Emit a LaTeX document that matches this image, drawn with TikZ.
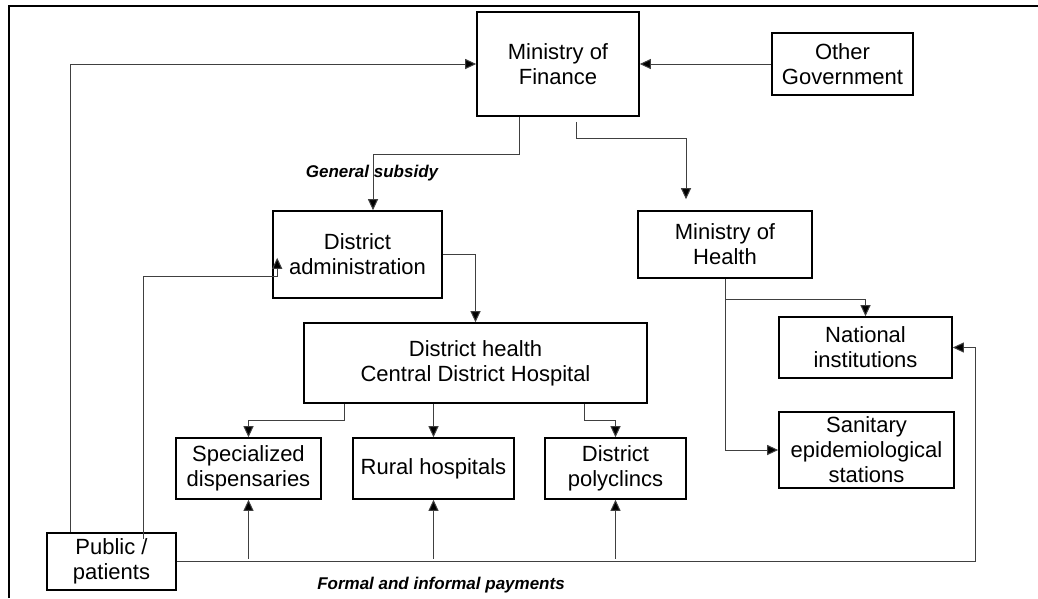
\documentclass[tikz,border=0pt]{standalone}
\usepackage{fontspec}
\setmainfont{Liberation Sans}
\usetikzlibrary{arrows.meta}

\begin{document}
\begin{tikzpicture}[x=1pt,y=-1pt,
    box/.style={draw=black,line width=1.6pt,rectangle,align=center,inner sep=0pt,
        font=\fontsize{22}{25}\selectfont},
    lbl/.style={font=\fontsize{17}{20}\selectfont\bfseries\itshape,inner sep=0pt},
    arr/.style={draw=black!75,line width=1pt,-{Triangle[length=11pt,width=10pt,fill=black]}}]
    \useasboundingbox (0,0) rectangle (1038,598);
    \draw [black,line width=2pt] (9,598) -- (9,6) -- (1038,6);
    % boxes
    \node[box,minimum width=162pt,minimum height=104pt] (mof) at (558,64) {Ministry of\\Finance};
    \node[box,minimum width=141pt,minimum height=62pt] (other) at (842.5,64) {Other\\Government};
    \node[box,minimum width=169pt,minimum height=87pt] (dadmin) at (357.5,254.5) {District\\administration};
    \node[box,minimum width=174pt,minimum height=67pt] (moh) at (725,244.5) {Ministry of\\Health};
    \node[box,minimum width=343pt,minimum height=80pt] (dhealth) at (475.5,363) {District health\\Central District Hospital};
    \node[box,minimum width=145pt,minimum height=61pt] (spec) at (248.5,468.5) {Specialized\\dispensaries};
    \node[box,minimum width=161pt,minimum height=61pt] (rural) at (433.5,468.5) {Rural hospitals};
    \node[box,minimum width=141pt,minimum height=61pt] (poly) at (615.5,468.5) {District\\polyclincs};
    \node[box,minimum width=173pt,minimum height=61pt] (natinst) at (865.5,347.5) {National\\institutions};
    \node[box,minimum width=175pt,minimum height=76pt] (sanit) at (866.5,450) {Sanitary\\epidemiological\\stations};
    \node[box,minimum width=129pt,minimum height=57pt] (public) at (111.5,561.5) {Public /\\patients};
    % labels
    \node[lbl] (subsidy) at (372,173) {General subsidy};
    \node[lbl] (payments) at (441,585) {Formal and informal payments};
    % connectors
    \draw[arr] (other) -- (mof);
    \draw[arr] ([xshift=24pt]public.north west) |- (mof.west);
    \draw[arr] ([xshift=-39pt]mof.south) -- ++(0,38) -| ([xshift=15.5pt]dadmin.north);
    \draw[arr] ([xshift=18pt,yshift=-5pt]mof.south) -- ++(0,17) -| ([xshift=-39pt,yshift=11pt]moh.north);
    \draw[arr] (dadmin.east) -| (dhealth.north);
    \draw[arr] ([xshift=31.5pt,yshift=-7pt]public.north) |- ([xshift=5pt,yshift=22pt]dadmin.south west) -- ++(0,-19);
    \draw[arr] ([xshift=41pt]dhealth.south west) -- ++(0,17) -| (spec.north);
    \draw[arr] (dhealth.south -| rural.north) -- (rural.north);
    \draw[arr] ([xshift=-63pt]dhealth.south east) -- ++(0,17) -| (poly.north);
    \draw[arr] (moh.south) -- ++(0,21) -| (natinst.north);
    \draw[arr] (moh.south) |- (sanit.west);
    \draw[arr] (public.east) -| ([xshift=23pt]natinst.east) -- (natinst.east);
    \draw[arr] ([yshift=3pt]spec.south |- public.east) -- (spec.south);
    \draw[arr] ([yshift=3pt]rural.south |- public.east) -- (rural.south);
    \draw[arr] ([yshift=3pt]poly.south |- public.east) -- (poly.south);
\end{tikzpicture}
\end{document}
